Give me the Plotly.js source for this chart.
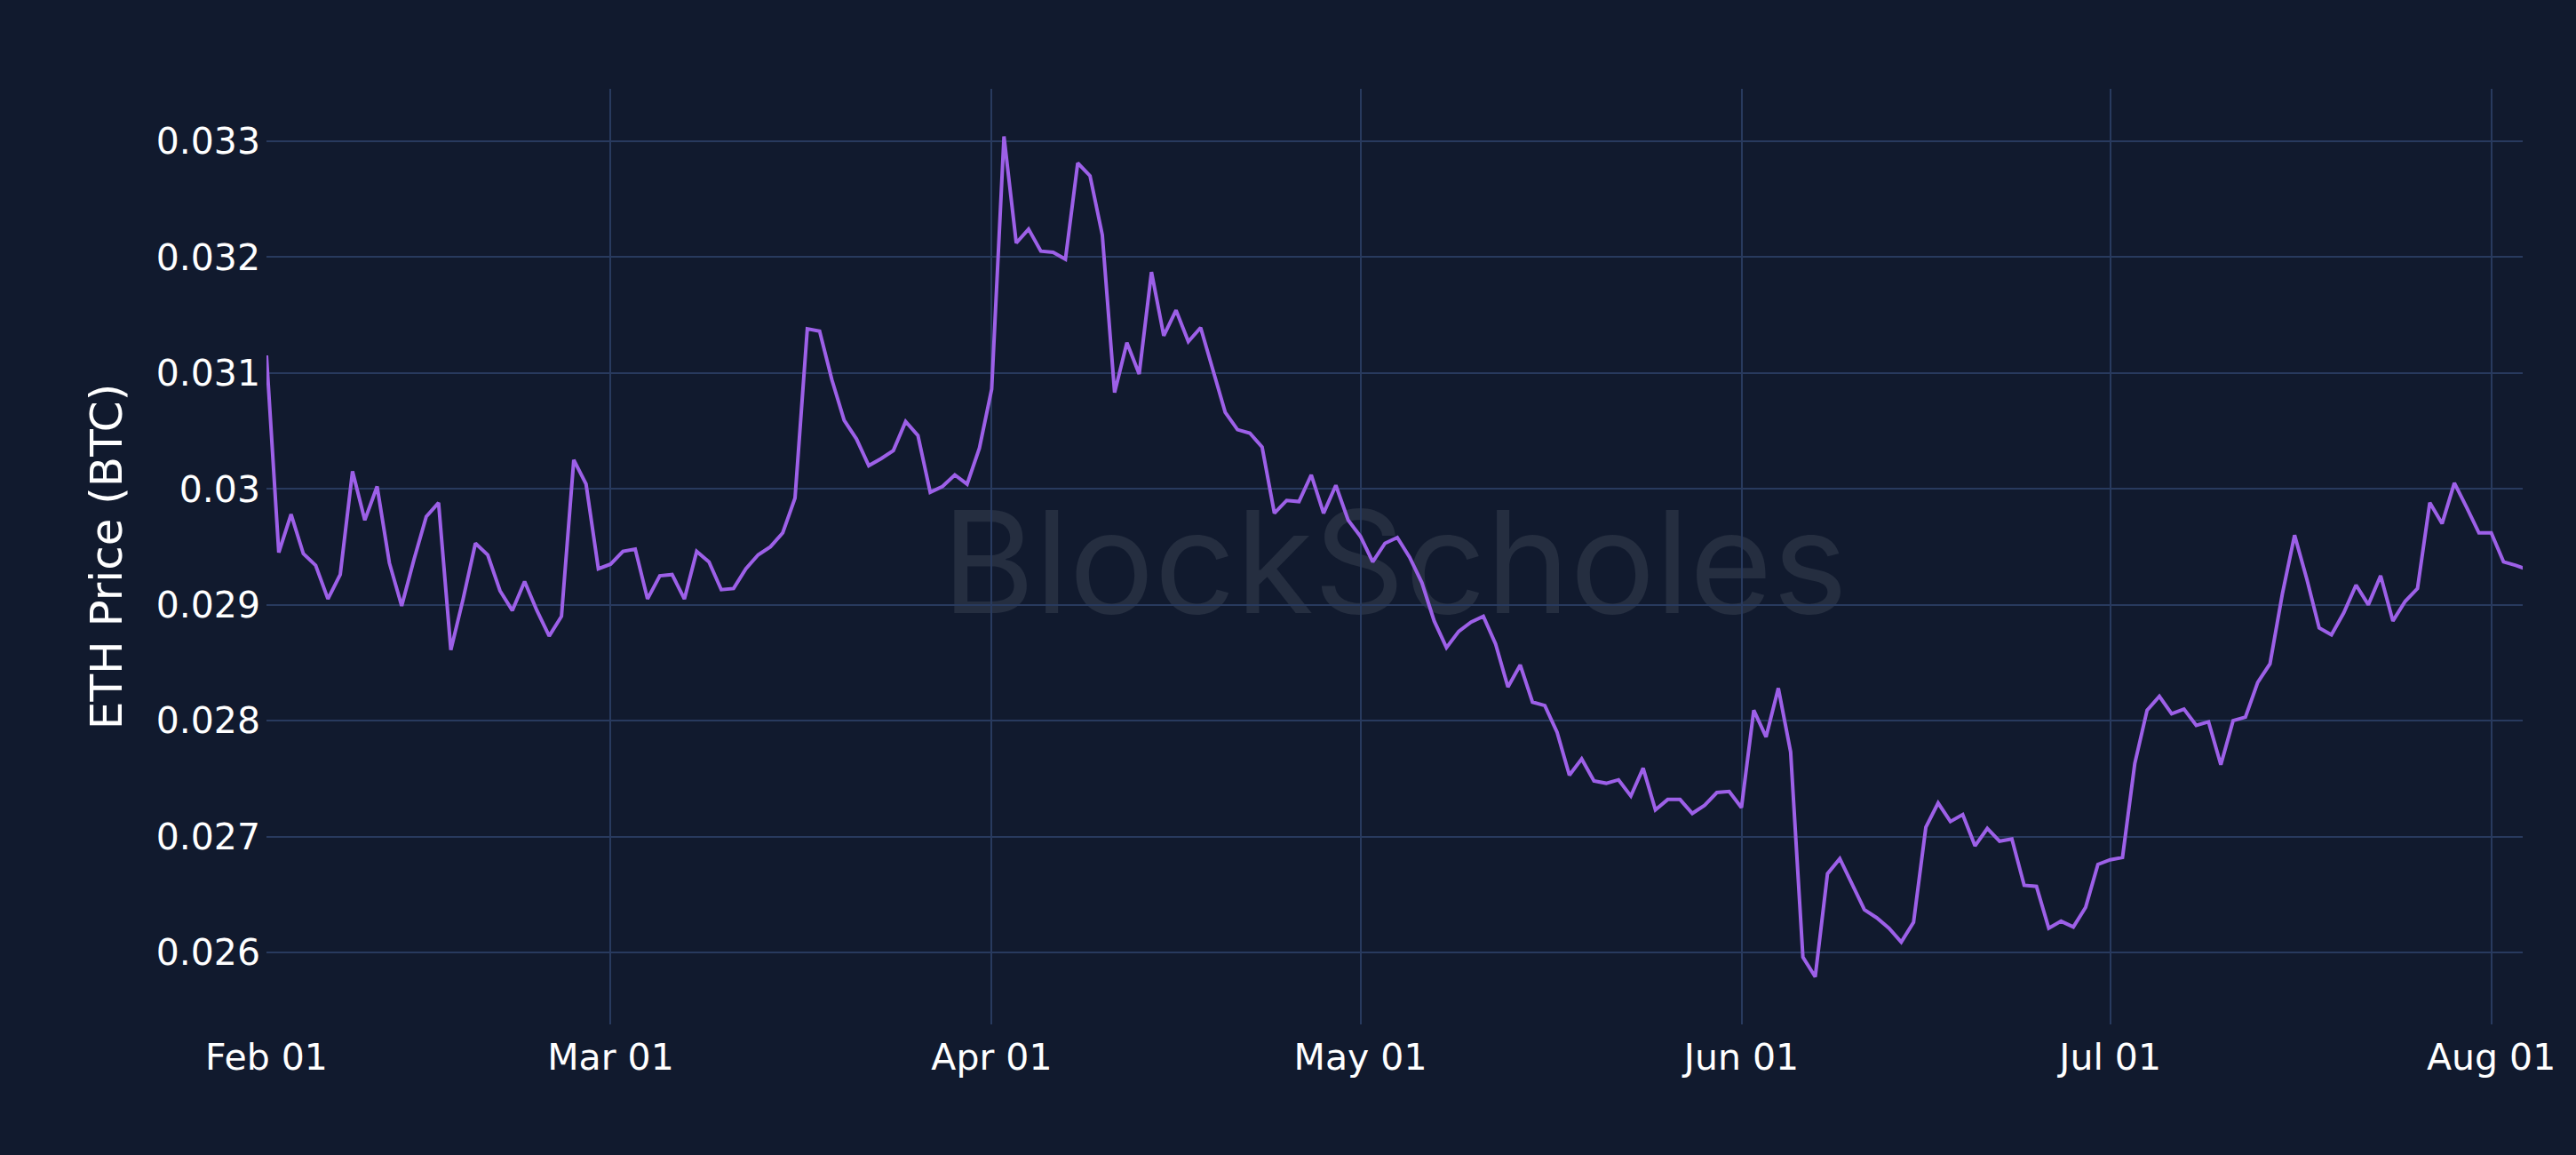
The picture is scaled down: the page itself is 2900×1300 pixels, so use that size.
<!DOCTYPE html>
<html>
<head>
<meta charset="utf-8">
<script src="https://cdn.plot.ly/plotly-3.0.1.min.js"></script>
<style>
  html, body { margin: 0; padding: 0; background: #111a2e; }
  #chart { width: 2900px; height: 1300px; }
</style>
</head>
<body>
<div id="chart"></div>
<script>
// ETH/BTC daily close, one array per month
const YEAR = 2023;
const monthNums = ["02", "03", "04", "05", "06", "07", "08"];

const feb = [0.03115, 0.02945, 0.02978, 0.02944, 0.02934, 0.02905, 0.02926, 0.03015, 0.02973, 0.03002,
  0.02936, 0.02899, 0.02939, 0.02976, 0.02988, 0.02861, 0.02905, 0.02953, 0.02943, 0.02912,
  0.02895, 0.02920, 0.02895, 0.02873, 0.02890, 0.03025, 0.03004, 0.02931];
const mar = [0.02935, 0.02946, 0.02948, 0.02905, 0.02925, 0.02926, 0.02905, 0.02946, 0.02937, 0.02913,
  0.02914, 0.02931, 0.02943, 0.02950, 0.02962, 0.02992, 0.03138, 0.03136, 0.03094, 0.03059,
  0.03043, 0.03020, 0.03026, 0.03033, 0.03058, 0.03046, 0.02997, 0.03002, 0.03012, 0.03004,
  0.03035];
const apr = [0.03086, 0.03304, 0.03212, 0.03224, 0.03205, 0.03204, 0.03198, 0.03281, 0.03270, 0.03219,
  0.03083, 0.03126, 0.03099, 0.03187, 0.03132, 0.03154, 0.03127, 0.03139, 0.03103, 0.03066,
  0.03051, 0.03048, 0.03036, 0.02979, 0.02990, 0.02989, 0.03012, 0.02979, 0.03003, 0.02973];
const may = [0.02959, 0.02937, 0.02953, 0.02958, 0.02941, 0.02919, 0.02886, 0.02863, 0.02877, 0.02885,
  0.02890, 0.02866, 0.02829, 0.02848, 0.02816, 0.02813, 0.02790, 0.02753, 0.02767, 0.02748,
  0.02746, 0.02749, 0.02735, 0.02759, 0.02723, 0.02732, 0.02732, 0.02720, 0.02727, 0.02738,
  0.02739];
const jun = [0.02725, 0.02809, 0.02786, 0.02828, 0.02773, 0.02596, 0.02579, 0.02668, 0.02681, 0.02659,
  0.02637, 0.02630, 0.02621, 0.02609, 0.02626, 0.02708, 0.02729, 0.02713, 0.02719, 0.02692,
  0.02707, 0.02696, 0.02698, 0.02658, 0.02657, 0.02621, 0.02627, 0.02622, 0.02639, 0.02676];
const jul = [0.02680, 0.02682, 0.02763, 0.02809, 0.02821, 0.02806, 0.02810, 0.02796, 0.02799, 0.02762,
  0.02800, 0.02803, 0.02833, 0.02849, 0.02909, 0.02960, 0.02922, 0.02880, 0.02874, 0.02893,
  0.02917, 0.02900, 0.02925, 0.02886, 0.02903, 0.02914, 0.02988, 0.02970, 0.03005, 0.02984,
  0.02962];
const aug = [0.02962, 0.02937, 0.02934, 0.02930];

const months = [feb, mar, apr, may, jun, jul, aug];

const dates = [], prices = [];
months.forEach((vals, m) => {
  vals.forEach((v, i) => {
    dates.push(`${YEAR}-${monthNums[m]}-${String(i + 1).padStart(2, "0")}`);
    prices.push(v);
  });
});

const BG = "#111a2e";
const GRID = "#283a5e";
const FONT = "DejaVu Sans, Verdana, sans-serif";

Plotly.newPlot("chart", [{
  x: dates,
  y: prices,
  type: "scatter",
  mode: "lines",
  line: { color: "#9d60e8", width: 4 },
  hoverinfo: "x+y"
}], {
  width: 2900,
  height: 1300,
  paper_bgcolor: BG,
  plot_bgcolor: "rgba(0,0,0,0)",
  margin: { l: 300, r: 60, t: 100, b: 147 },
  showlegend: false,
  font: { family: FONT, color: "#ffffff", size: 41 },
  xaxis: {
    type: "date",
    range: ["2023-02-01", "2023-08-03 13:25"],
    tick0: "2023-02-01",
    dtick: "M1",
    tickformat: "%b %d",
    showgrid: true,
    gridcolor: GRID,
    gridwidth: 2,
    zeroline: false,
    showline: false,
    ticks: "",
    ticklabelstandoff: 9,
    tickfont: { family: FONT, size: 41, color: "#ffffff" }
  },
  yaxis: {
    range: [0.02538, 0.03345],
    tick0: 0,
    dtick: 0.001,
    showgrid: true,
    gridcolor: GRID,
    gridwidth: 2,
    zeroline: false,
    showline: false,
    ticks: "",
    ticklabelstandoff: 6,
    tickfont: { family: FONT, size: 41, color: "#ffffff" },
    title: { text: "ETH Price (BTC)", font: { family: FONT, size: 50, color: "#ffffff" }, standoff: 22 }
  },
  shapes: [{
    type: "rect",
    xref: "paper", yref: "paper",
    x0: 0.25, x1: 0.75, y0: 0.35, y1: 0.65,
    layer: "below",
    line: { width: 0 },
    fillcolor: "rgba(0,0,0,0)",
    label: {
      text: "BlockScholes",
      textposition: "middle center",
      font: { family: "Inter, Lato, sans-serif", size: 160, color: "#252e40" }
    }
  }]
}, { displayModeBar: false, staticPlot: true });
</script>
</body>
</html>
